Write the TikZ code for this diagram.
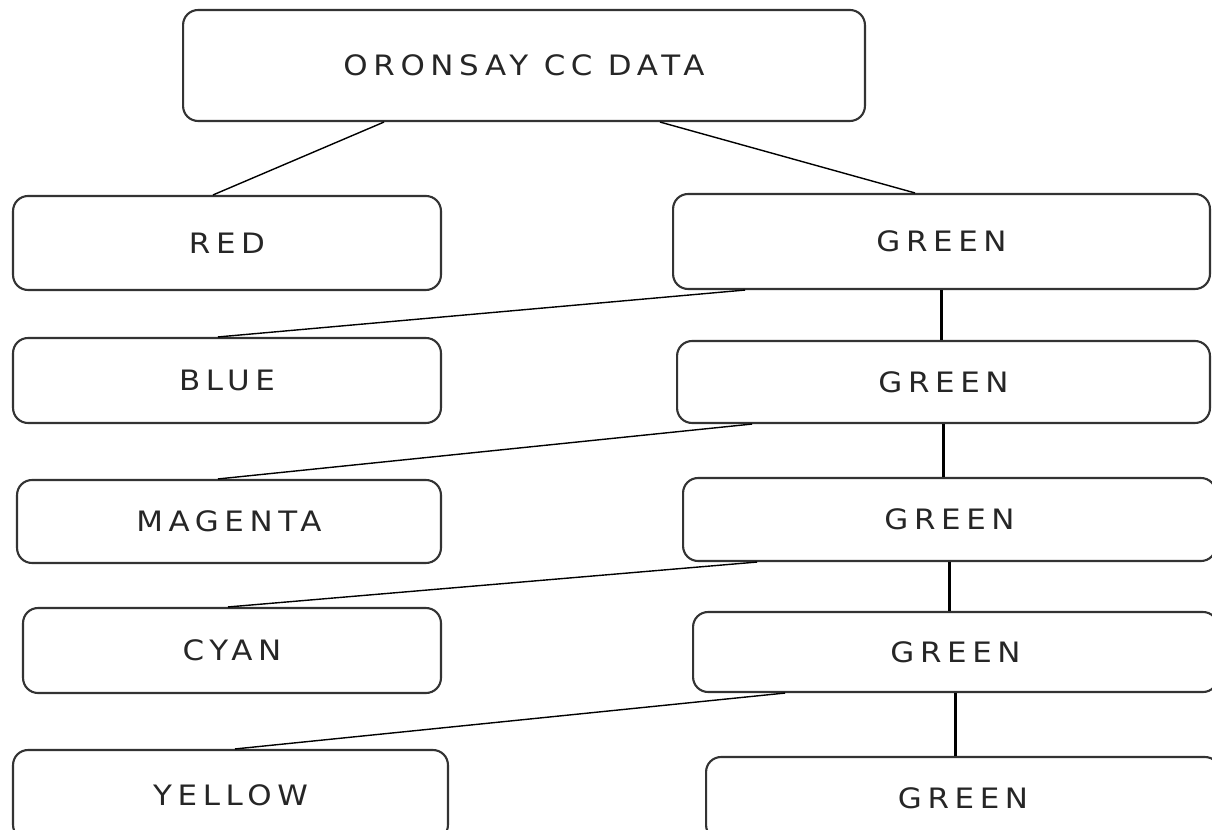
\documentclass[tikz,border=0pt]{standalone}
\usepackage{fontspec}
\setmainfont{DejaVu Sans}[LetterSpace=20,FakeStretch=1.1]
\usepackage{tikz}

\begin{document}
\begin{tikzpicture}[x=0.02cm,y=-0.02cm,
  box/.style={draw=black!80,line width=1.2pt,rounded corners=0.3cm,inner sep=0pt,
    font=\fontsize{16}{18}\selectfont,text=black!85},
  link/.style={draw=black,line width=0.8pt},
  down/.style={draw=black,line width=1.4pt}]
\useasboundingbox (0,0) rectangle (1212,830);
\clip (0,0) rectangle (1212,830);

\node[box,minimum width=13.64cm,minimum height=2.22cm] (data) at (524,65.5) {ORONSAY CC DATA};

\node[box,minimum width=8.56cm,minimum height=1.88cm] (red) at (227,243) {RED};
\node[box,minimum width=8.56cm,minimum height=1.70cm] (blue) at (227,380.5) {BLUE};
\node[box,minimum width=8.48cm,minimum height=1.66cm] (magenta) at (229,521.5) {MAGENTA};
\node[box,minimum width=8.36cm,minimum height=1.70cm] (cyan) at (232,650.5) {CYAN};
\node[box,minimum width=8.70cm,minimum height=1.80cm] (yellow) at (230.5,795) {YELLOW};

\node[box,minimum width=10.74cm,minimum height=1.90cm] (green1) at (941.5,241.5) {GREEN};
\node[box,minimum width=10.66cm,minimum height=1.64cm] (green2) at (943.5,382) {GREEN};
\node[box,minimum width=10.66cm,minimum height=1.66cm] (green3) at (949.5,519.5) {GREEN};
\node[box,minimum width=10.50cm,minimum height=1.60cm] (green4) at (955.5,652) {GREEN};
\node[box,minimum width=10.28cm,minimum height=1.66cm] (green5) at (963,798.5) {GREEN};

% top level
\draw[link] ([xshift=-2.8cm]data.south) -- ([xshift=-0.28cm]red.north);
\draw[link] ([xshift=2.72cm]data.south) -- ([xshift=-0.53cm]green1.north);

% each green splits again
\draw[link] ([xshift=-3.93cm]green1.south) -- ([xshift=-0.18cm]blue.north);
\draw[link] ([xshift=-3.83cm]green2.south) -- ([xshift=-0.22cm]magenta.north);
\draw[link] ([xshift=-3.85cm]green3.south) -- ([xshift=-0.08cm]cyan.north);
\draw[link] ([xshift=-3.41cm]green4.south) -- ([xshift=0.09cm]yellow.north);

\draw[down] (green1.south) -- (green1.south |- green2.north);
\draw[down] (green2.south) -- (green2.south |- green3.north);
\draw[down] (green3.south) -- (green3.south |- green4.north);
\draw[down] (green4.south) -- (green4.south |- green5.north);
\end{tikzpicture}
\end{document}
